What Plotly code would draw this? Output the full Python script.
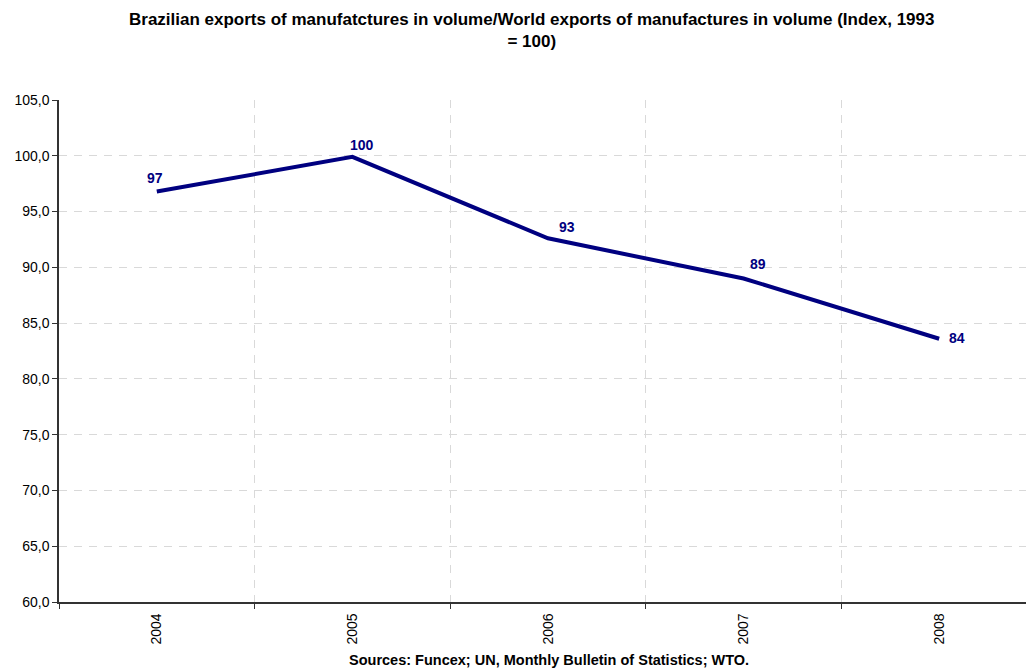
import plotly.graph_objects as go

years = ["2004", "2005", "2006", "2007", "2008"]
index_values = [96.8, 99.9, 92.6, 89.0, 83.6]
y_ticks = [60, 65, 70, 75, 80, 85, 90, 95, 100, 105]

title_text = ("Brazilian exports of manufatctures in volume/World exports of manufactures in volume (Index, 1993"
              "<br>= 100)")
source_text = "Sources: Funcex; UN, Monthly Bulletin of Statistics; WTO."

# label offsets (pixels) relative to each point
label_dx = [-2, 10, 19, 14, 18]
label_dy = [13, 12, 11, 14, 1]

FONT = "Liberation Sans, Arial, sans-serif"
NAVY = "#000080"

fig = go.Figure()
fig.add_trace(go.Scatter(
    x=years, y=index_values, mode="lines",
    line=dict(color=NAVY, width=4),
    hoverinfo="skip", showlegend=False,
))

for i, v in enumerate(index_values):
    fig.add_annotation(
        x=i, y=v, xref="x", yref="y",
        text="<b>%d</b>" % round(v),
        showarrow=False, xshift=label_dx[i], yshift=label_dy[i],
        font=dict(family=FONT, size=14, color=NAVY),
    )

fig.add_annotation(
    x=0.489, y=1.139, xref="paper", yref="paper", xanchor="center", yanchor="middle",
    text="<b>" + title_text + "</b>",
    showarrow=False, font=dict(family=FONT, size=17, color="black"),
)
fig.add_annotation(
    x=0.507, y=-0.1155, xref="paper", yref="paper", xanchor="center", yanchor="middle",
    text="<b>" + source_text + "</b>",
    showarrow=False, font=dict(family=FONT, size=14.5, color="black"),
)

fig.update_layout(
    width=1026, height=668,
    margin=dict(l=59, r=0, t=100, b=66),
    paper_bgcolor="white", plot_bgcolor="white",
    separators=",.",
    font=dict(family=FONT, size=14, color="black"),
)

fig.update_xaxes(
    type="category", range=[-0.5, 4.444],
    tickson="boundaries", ticks="outside", ticklen=5, tickcolor="#333333",
    tickangle=-90, tickfont=dict(family=FONT, size=14, color="black"),
    ticklabelstandoff=4,
    showline=True, linecolor="#333333", linewidth=1.5,
    showgrid=True, gridcolor="#d9d9d9", griddash="8px,7px", gridwidth=1,
    fixedrange=True,
)
fig.update_yaxes(
    range=[60, 105], tickvals=y_ticks, tickformat=".1f",
    ticks="outside", ticklen=5, tickcolor="#333333",
    tickfont=dict(family=FONT, size=14, color="black"),
    showline=True, linecolor="#333333", linewidth=1.5,
    showgrid=True, gridcolor="#d9d9d9", griddash="8px,7px", gridwidth=1,
    zeroline=False, fixedrange=True,
)

fig.write_html("out.html")
